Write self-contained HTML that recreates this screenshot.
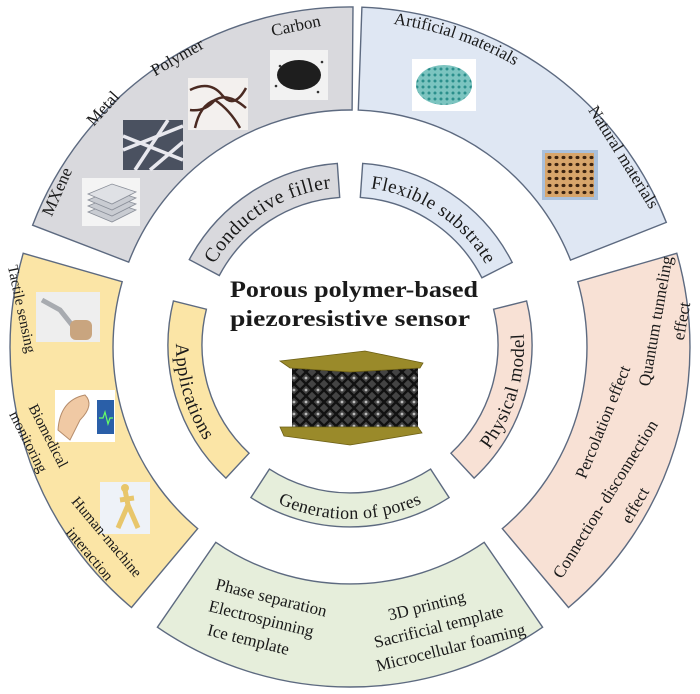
<!DOCTYPE html>
<html><head><meta charset="utf-8">
<style>
html,body{margin:0;padding:0;background:#fff;}
svg{display:block;}
text{font-family:"Liberation Serif",serif;fill:#1a1a1a;}
</style></head>
<body>
<svg id="s" width="700" height="694" viewBox="0 0 700 694" xmlns="http://www.w3.org/2000/svg">
<defs>
<pattern id="mesh" width="12" height="12" patternUnits="userSpaceOnUse">
<rect width="12" height="12" fill="#444"/>
<path d="M0 6 L6 0 L12 6 L6 12 Z" fill="none" stroke="#111" stroke-width="2.4"/>
<circle cx="6" cy="6" r="1.4" fill="#bbb"/>
</pattern>
<pattern id="teal" width="6" height="6" patternUnits="userSpaceOnUse">
<rect width="6" height="6" fill="#7cc4c0"/><circle cx="3" cy="3" r="1.5" fill="#2b8f8c"/>
</pattern>
<pattern id="wood" width="7" height="7" patternUnits="userSpaceOnUse">
<rect width="7" height="7" fill="#d7a56b"/><ellipse cx="3.5" cy="3.5" rx="2" ry="1.6" fill="#3d2410"/>
</pattern>
</defs>
<g id="shapes"></g>
<g id="labels"></g>

<!-- grey outer images -->
<rect x="82" y="178" width="58" height="48" fill="#f4f4f4"/>
<g fill="#c9ccd2" stroke="#8a8f99" stroke-width="0.8">
<path d="M88 212 L112 202 L136 210 L112 222 Z"/>
<path d="M88 206 L112 196 L136 204 L112 216 Z"/>
<path d="M88 200 L112 190 L136 198 L112 210 Z"/>
<path d="M88 194 L112 184 L136 192 L112 204 Z" fill="#dfe1e5"/>
</g>
<rect x="123" y="120" width="60" height="50" fill="#4a5160"/>
<g stroke="#e8e8ee" stroke-width="3.5"><line x1="123" y1="150" x2="183" y2="126"/><line x1="135" y1="170" x2="168" y2="120"/><line x1="123" y1="136" x2="183" y2="160"/><line x1="150" y1="170" x2="183" y2="142"/></g>
<rect x="188" y="78" width="60" height="52" fill="#f3f0ee"/>
<g fill="none" stroke="#4a2a22" stroke-width="2.5"><path d="M190 90 Q210 80 222 95 T246 88"/><path d="M195 128 Q200 105 215 100 Q230 110 240 128"/><path d="M190 110 Q205 112 215 100 Q228 92 246 108"/></g>
<rect x="270" y="50" width="58" height="50" fill="#f2f2f2"/>
<ellipse cx="299" cy="75" rx="22" ry="15" fill="#1e1e1e"/>
<g fill="#333"><circle cx="276" cy="86" r="1.3"/><circle cx="322" cy="62" r="1.3"/><circle cx="318" cy="92" r="1.3"/><circle cx="280" cy="66" r="1.3"/></g>
<!-- blue images -->
<rect x="412" y="59" width="64" height="52" fill="#fff"/>
<ellipse cx="444" cy="85" rx="28" ry="20" fill="url(#teal)"/>
<rect x="542" y="150" width="56" height="50" fill="#a9c0dc"/>
<rect x="545" y="153" width="49" height="44" fill="url(#wood)"/>
<!-- yellow images -->
<rect x="36" y="292" width="64" height="50" fill="#eeeeee"/>
<path d="M42 300 L60 310 L72 325" stroke="#a8abb0" stroke-width="5" fill="none"/>
<rect x="70" y="320" width="22" height="20" rx="6" fill="#c9a57f"/>
<rect x="55" y="390" width="60" height="52" fill="#fff"/>
<path d="M58 430 Q60 400 85 395 Q95 405 80 420 L70 440 Z" fill="#f0c9a4" stroke="#b58c6b"/>
<rect x="97" y="400" width="17" height="34" fill="#2a5fa8"/><path d="M99 418 h4 l2 -6 l3 12 l2 -6 h3" stroke="#6f6" fill="none" stroke-width="1.2"/>
<rect x="100" y="482" width="50" height="52" fill="#eef2f8"/>
<path d="M125 490 L128 505 L118 528 M128 505 L138 528 M120 500 L134 498" stroke="#e8c66b" stroke-width="5" fill="none"/>
<circle cx="125" cy="488" r="4" fill="#e8c66b"/>

<!-- center title -->
<text x="230" y="297" font-size="23" font-weight="bold" textLength="248" lengthAdjust="spacingAndGlyphs">Porous polymer-based</text>
<text x="230" y="326" font-size="23" font-weight="bold" textLength="240" lengthAdjust="spacingAndGlyphs">piezoresistive sensor</text>
<rect x="292" y="366" width="126" height="62" fill="url(#mesh)"/>
<polygon points="280,361 365,351 423,363 420,368 350,372 290,368" fill="#9a8a2a" stroke="#6c5f15" stroke-width="0.8"/>
<polygon points="280,427 418,427 422,433 350,445 284,436" fill="#9a8a2a" stroke="#6c5f15" stroke-width="0.8"/>

<!-- straight-ish labels -->
<g font-size="17">
<text transform="translate(62,194) rotate(-66)" text-anchor="middle">MXene</text>
<text transform="translate(107,112) rotate(-48)" text-anchor="middle">Metal</text>
<text transform="translate(180,62) rotate(-30)" text-anchor="middle">Polymer</text>
<text transform="translate(297,31) rotate(-12)" text-anchor="middle">Carbon</text>
<text transform="translate(619,160) rotate(58)" text-anchor="middle">Natural materials</text>
<text transform="translate(661,322) rotate(-80)" text-anchor="middle">Quantum tunneling</text>
<text transform="translate(687,322) rotate(-80)" text-anchor="middle">effect</text>
<text transform="translate(608,424) rotate(-68)" text-anchor="middle">Percolation effect</text>
<text transform="translate(610,502) rotate(-58)" text-anchor="middle">Connection- disconnection</text>
<text transform="translate(640,508) rotate(-60)" text-anchor="middle">effect</text>
<text transform="translate(17,310) rotate(78)" text-anchor="middle" font-size="15">Tactile  sensing</text>
<text transform="translate(44,438) rotate(63)" text-anchor="middle" font-size="15">Biomedical</text>
<text transform="translate(24,444) rotate(63)" text-anchor="middle" font-size="15">monitoring</text>
<text transform="translate(103,540) rotate(50)" text-anchor="middle" font-size="15">Human-machine</text>
<text transform="translate(86,557) rotate(50)" text-anchor="middle" font-size="15">interaction</text>
<text transform="translate(270,603) rotate(14)" text-anchor="middle">Phase separation</text>
<text transform="translate(260,624) rotate(14)" text-anchor="middle">Electrospinning</text>
<text transform="translate(247,645) rotate(14)" text-anchor="middle">Ice template</text>
<text transform="translate(428,611) rotate(-14)" text-anchor="middle">3D printing</text>
<text transform="translate(440,632) rotate(-14)" text-anchor="middle">Sacrificial template</text>
<text transform="translate(452,653) rotate(-14)" text-anchor="middle">Microcellular  foaming</text>
</g>
</svg>
<script>
var NS="http://www.w3.org/2000/svg";
function P(cx,cy,r,a){a=a*Math.PI/180;return [(cx+r*Math.cos(a)).toFixed(1),(cy+r*Math.sin(a)).toFixed(1)];}
function ann(cx,cy,r1,r2,a1,a2){var lg=(a2-a1)>180?1:0;var p1=P(cx,cy,r2,a1),p2=P(cx,cy,r2,a2),p3=P(cx,cy,r1,a2),p4=P(cx,cy,r1,a1);
return "M"+p1+" A"+r2+" "+r2+" 0 "+lg+" 1 "+p2+" L"+p3+" A"+r1+" "+r1+" 0 "+lg+" 0 "+p4+" Z";}
function arc(cx,cy,r,a1,a2){var cw=a2>a1?1:0;var lg=Math.abs(a2-a1)>180?1:0;return "M"+P(cx,cy,r,a1)+" A"+r+" "+r+" 0 "+lg+" "+cw+" "+P(cx,cy,r,a2);}
var g=document.getElementById("shapes"),L=document.getElementById("labels"),defs=document.querySelector("defs");
var st="#5d6a80";
[[237,340,201,270.5,"#d9d9dd"],[237,340,272,338.5,"#dfe7f3"],[237,340,344,410,"#f8e1d5"],[237,340,55.5,124.5,"#e6eedb"],[237,340,130,196,"#fbe5a6"]].forEach(function(s){
var p=document.createElementNS(NS,"path");p.setAttribute("d",ann(350,347,s[0],s[1],s[2],s[3]));p.setAttribute("fill",s[4]);p.setAttribute("stroke",st);p.setAttribute("stroke-width","1.4");g.appendChild(p);});
[[148,182,208,266,"#d9d9dd"],[148,182,274,333,"#dfe7f3"],[148,182,346,407,"#f8e1d5"],[148,182,57,123,"#e6eedb"],[148,182,133,194,"#fbe5a6"]].forEach(function(s){
var p=document.createElementNS(NS,"path");p.setAttribute("d",ann(350,345,s[0],s[1],s[2],s[3]));p.setAttribute("fill",s[4]);p.setAttribute("stroke",st);p.setAttribute("stroke-width","1.4");g.appendChild(p);});
var n=0;
function tp(cx,cy,r,a1,a2,txt,fs,ls){var id="tp"+(n++);var p=document.createElementNS(NS,"path");p.setAttribute("id",id);p.setAttribute("d",arc(cx,cy,r,a1,a2));p.setAttribute("fill","none");defs.appendChild(p);
var t=document.createElementNS(NS,"text");t.setAttribute("font-size",fs);if(ls)t.setAttribute("letter-spacing",ls);var q=document.createElementNS(NS,"textPath");q.setAttributeNS("http://www.w3.org/1999/xlink","href","#"+id);q.setAttribute("href","#"+id);q.setAttribute("startOffset","50%");q.setAttribute("text-anchor","middle");q.textContent=txt;t.appendChild(q);L.appendChild(t);}
tp(350,345,158,200,274,"Conductive filler",20,"0.5");
tp(350,345,158,266,341,"Flexible substrate",19,"0.5");
tp(350,345,174,420,333,"Physical model",19,"0.5");
tp(350,345,174,135,45,"Generation of pores",18,"0.3");
tp(350,345,174,210,117,"Applications",19,"0.5");
tp(350,347,326,262,316,"Artificial materials",17,"");
</script>
</body></html>
